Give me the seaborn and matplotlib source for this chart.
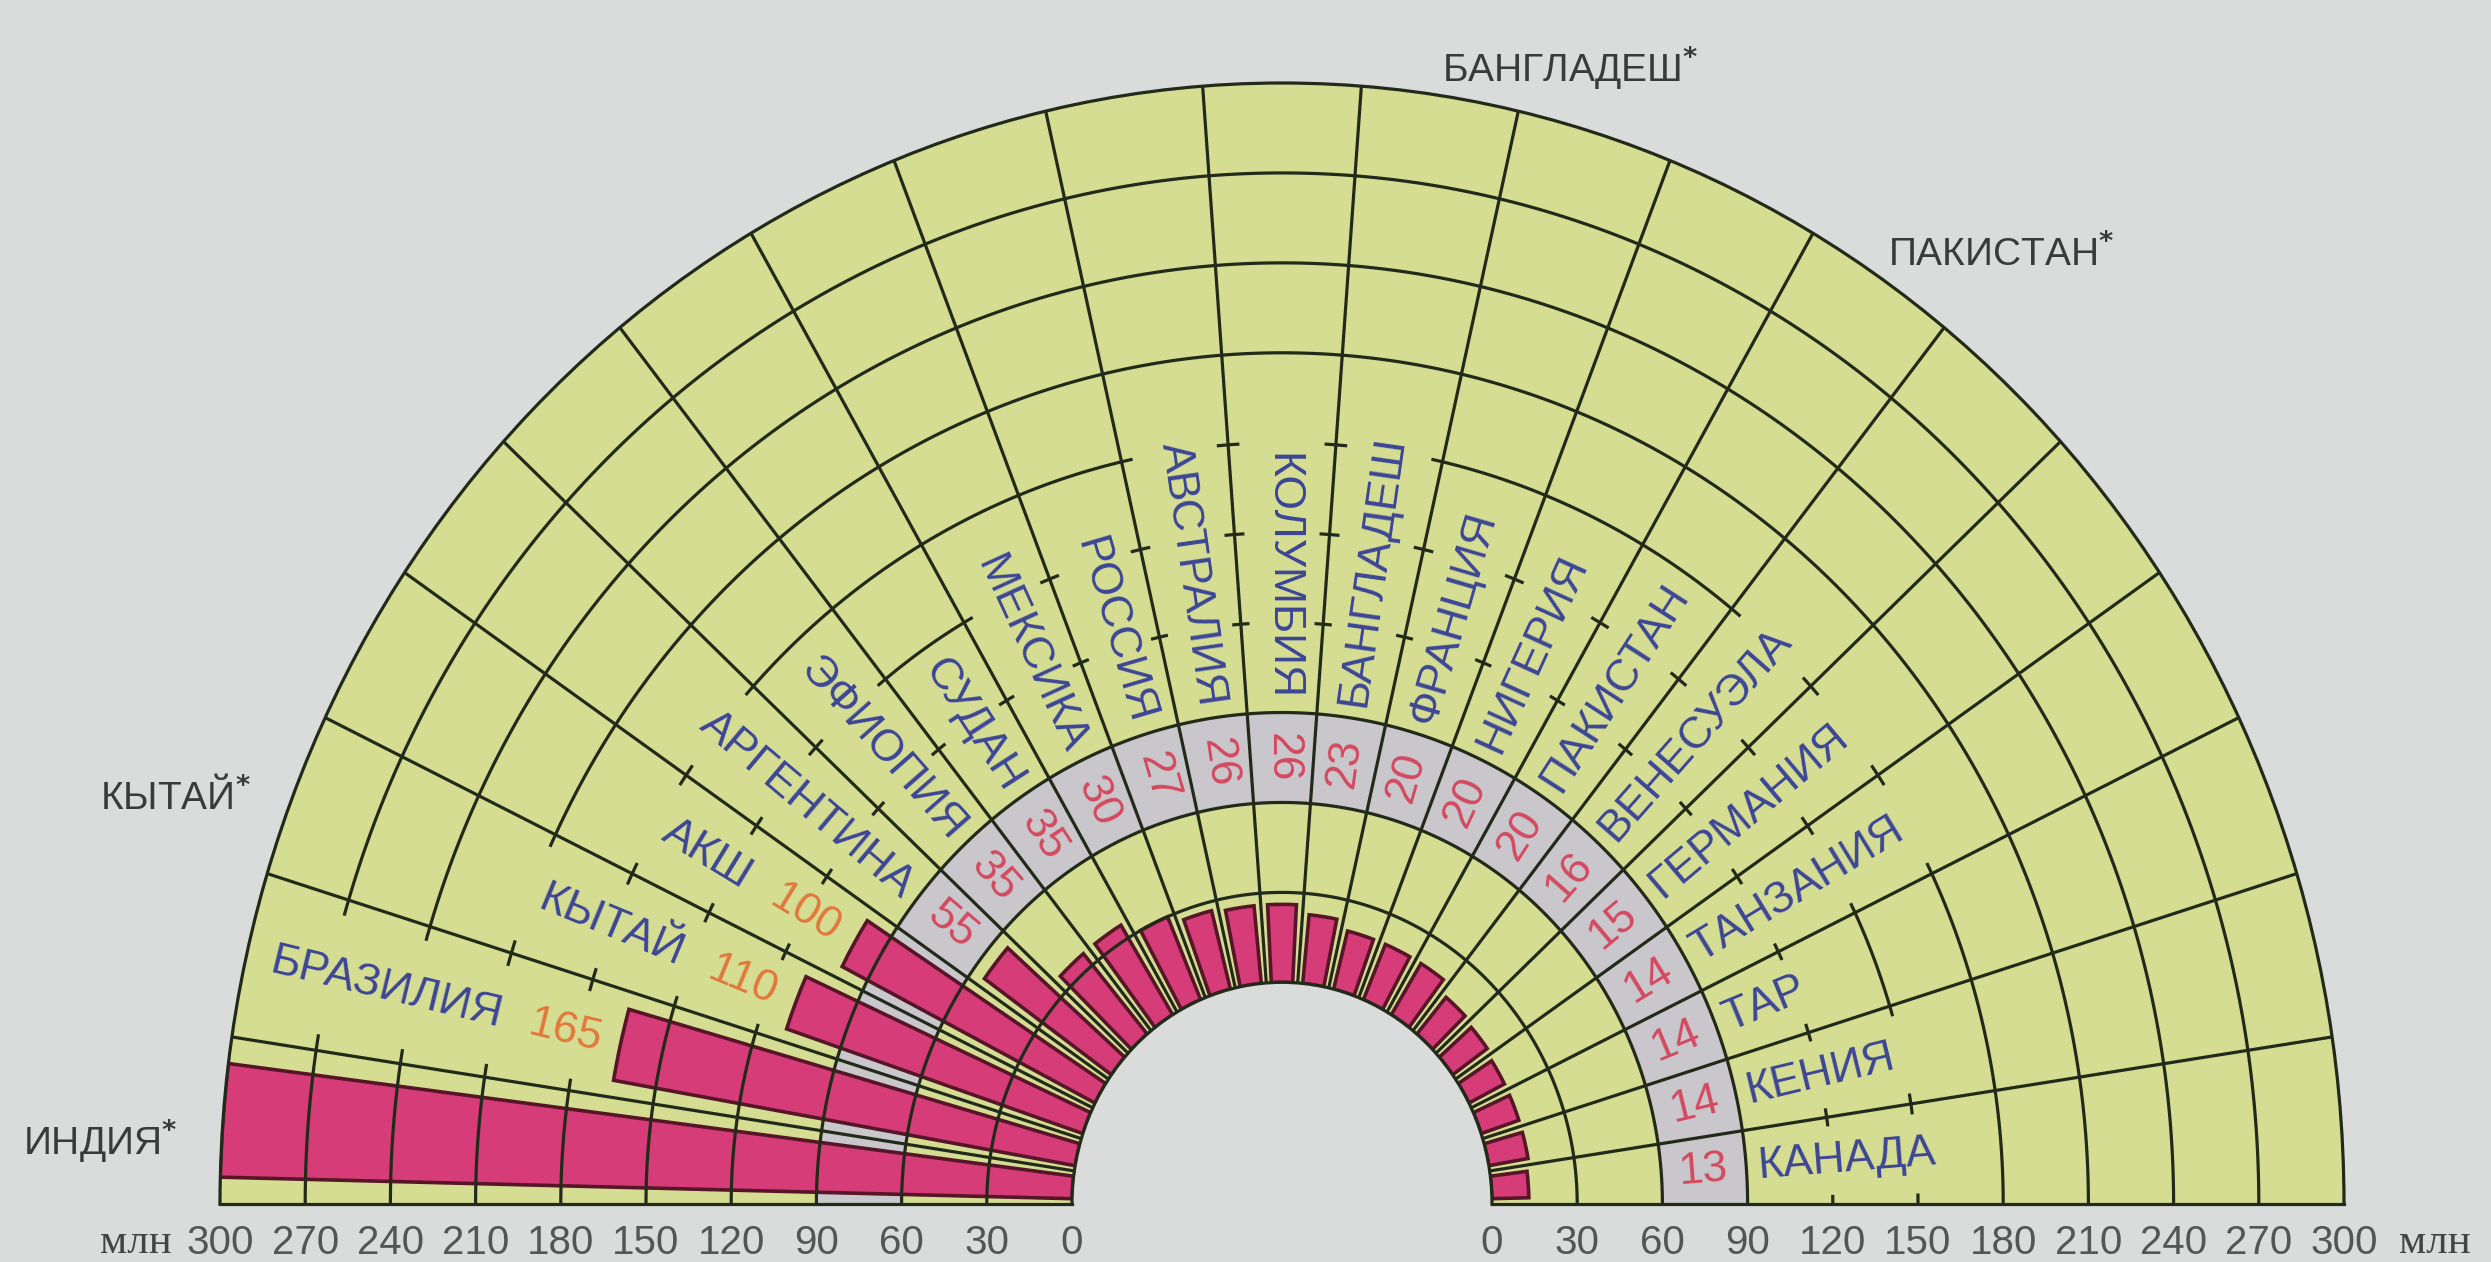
import numpy as np
import pandas as pd
import matplotlib
matplotlib.use("Agg")
import matplotlib.pyplot as plt
import matplotlib.transforms as mtransforms
from matplotlib.font_manager import FontProperties
import seaborn as sns

# ---------------- data ----------------
countries = ["ИНДИЯ", "БРАЗИЛИЯ", "КЫТАЙ", "АКШ", "АРГЕНТИНА", "ЭФИОПИЯ", "СУДАН",
             "МЕКСИКА", "РОССИЯ", "АВСТРАЛИЯ", "КОЛУМБИЯ", "БАНГЛАДЕШ", "ФРАНЦИЯ",
             "НИГЕРИЯ", "ПАКИСТАН", "ВЕНЕСУЭЛА", "ГЕРМАНИЯ", "ТАНЗАНИЯ", "ТАР",
             "КЕНИЯ", "КАНАДА"]
values = [300, 165, 110, 100, 55, 35, 35, 30, 27, 26, 26, 23, 20, 20, 20, 16, 15,
          14, 14, 14, 13]
value_labels = ["", "165", "110", "100", "55", "35", "35", "30", "27", "26", "26",
                "23", "20", "20", "20", "16", "15", "14", "14", "14", "13"]
starred = ["ИНДИЯ", "КЫТАЙ", "БАНГЛАДЕШ", "ПАКИСТАН"]
scale_ticks = [0, 30, 60, 90, 120, 150, 180, 210, 240, 270, 300]
unit_label = "млн"

# ---------------- style ----------------
BG = "#dadbdb"
FILL = "#d5dd93"
BAND = "#c9c7cb"
PINK = "#d53c78"
EDGE = "#561628"
GRID = "#222a1a"
BLUE = "#3c4696"
RED = "#d44a60"
ORANGE = "#e2783c"
TICK = "#555555"
LW = 2.3

sns.set_theme(style="white")
plt.rcParams["font.family"] = ["Liberation Sans", "DejaVu Sans"]

W, H, DPI = 2491, 1262, 100
fig = plt.figure(figsize=(W / DPI, H / DPI), dpi=DPI)
fig.patch.set_facecolor(BG)

# layout of the half annulus (pixels in image coordinates)
cx, cy = 1282, 1204
rx, ry = 1062, 1121
rin = 210
ax = fig.add_axes([(cx - rx) / W, ((H - cy) - 0.5 * ry) / H, 2 * rx / W, 2 * ry / H],
                  projection="polar")

n = len(countries)
sector = np.pi / n
theta = np.pi - (np.arange(n) + 0.5) * sector
rmax = scale_ticks[-1]

df = pd.DataFrame({"theta": theta, "value": values, "country": countries})

# grey value band (60..90)
ax.bar(theta, 30, width=sector, bottom=60, color=BAND, linewidth=0, zorder=1)

sns.barplot(data=df, x="theta", y="value", native_scale=True, width=0.68,
            color=PINK, saturation=1, edgecolor=EDGE, linewidth=2.6,
            errorbar=None, ax=ax, zorder=2)

ax.set_thetamin(0)
ax.set_thetamax(180)
ax.set_ylim(0, rmax)
f = rin / rx
ax.set_rorigin(-f * rmax / (1 - f))
ax.set_aspect("auto")
ax.set_facecolor(FILL)
ax.grid(False)
ax.set_xticks([])
ax.set_yticks([])
ax.set_xlabel("")
ax.set_ylabel("")
for sp in ax.spines.values():
    sp.set_color(GRID)
    sp.set_linewidth(LW)

renderer = fig.canvas.get_renderer()
fp_lab = FontProperties(family=["Liberation Sans"], size=32)


def radial_info(t):
    p0 = ax.transData.transform((t, 100.0))
    p1 = ax.transData.transform((t, 200.0))
    d = p1 - p0
    return np.hypot(*d) / 100.0, np.degrees(np.arctan2(d[1], d[0]))


def text_units(s, t):
    w, h, dsc = renderer.get_text_width_height_descent(s, fp_lab, ismath=False)
    ppu, _ = radial_info(t)
    return w / ppu


cuts = {}
for i, (name, v, vl, t) in enumerate(zip(countries, values, value_labels, theta)):
    if not vl:
        continue
    ppu, ang = radial_info(t)
    left = i <= n // 2
    rot = ang - 180 if left else ang
    if v > 90:
        rv = v + 20
        ax.text(t, rv, vl, rotation=rot, rotation_mode="anchor", ha="center",
                va="center", color=ORANGE, fontproperties=fp_lab, zorder=5)
        r0 = v + 43
        lo = rv - text_units(vl, t) / 2 - 3
    else:
        ax.text(t, 75, vl, rotation=rot, rotation_mode="anchor", ha="center",
                va="center", color=RED, fontproperties=fp_lab, zorder=5)
        r0 = 94
        lo = r0 - 2
    L = text_units(name, t)
    ax.text(t, r0, name, rotation=rot, rotation_mode="anchor",
            ha="right" if left else "left", va="center", color=BLUE,
            fontproperties=fp_lab, zorder=5)
    cuts[i] = (lo, r0 + L + 4)

# spokes (sector boundaries)
for k in range(1, n):
    b = k * sector
    ax.plot([b, b], [0, rmax], color=GRID, lw=LW, zorder=3, solid_capstyle="butt")

# arcs every 30, interrupted behind labels
stub = np.radians(0.9)
for R in scale_ticks[1:-1]:
    for i in range(n):
        hi_t = np.pi - i * sector
        lo_t = np.pi - (i + 1) * sector
        c = cuts.get(i)
        if c and c[0] < R < c[1]:
            segs = [(lo_t, lo_t + stub), (hi_t - stub, hi_t)]
        else:
            segs = [(lo_t, hi_t)]
        for a, b in segs:
            tt = np.linspace(a, b, 30)
            ax.plot(tt, np.full_like(tt, R), color=GRID, lw=LW, zorder=3,
                    solid_capstyle="butt")

# bottom scale labels
below = mtransforms.offset_copy(ax.transData, fig=fig, x=0, y=-39, units="dots")
for v in scale_ticks:
    for t in (np.pi, 0.0):
        ax.text(t, v, str(v), transform=below, ha="center", va="center",
                fontsize=29, color=TICK, clip_on=False)
lt = mtransforms.offset_copy(ax.transData, fig=fig, x=-48, y=-39, units="dots")
rt = mtransforms.offset_copy(ax.transData, fig=fig, x=55, y=-39, units="dots")
ax.text(np.pi, rmax, unit_label, transform=lt, ha="right", va="center", fontsize=31,
        family=["Liberation Serif", "DejaVu Serif"], color="#444444", clip_on=False)
ax.text(0.0, rmax, unit_label, transform=rt, ha="left", va="center", fontsize=31,
        family=["Liberation Serif", "DejaVu Serif"], color="#444444", clip_on=False)

# starred labels outside the chart
for name in starred:
    i = countries.index(name)
    t = theta[i]
    if t > np.pi / 2:
        ax.text(t, rmax + 16, name + r"$^{\mathbf{*}}$", ha="right", va="top",
                fontsize=28, color="#3a3a3a", clip_on=False)
    else:
        ax.text(t, rmax + 5, name + r"$^{\mathbf{*}}$", ha="left", va="baseline",
                fontsize=28, color="#3a3a3a", clip_on=False)

fig.savefig("out.png", dpi=DPI, facecolor=BG)
